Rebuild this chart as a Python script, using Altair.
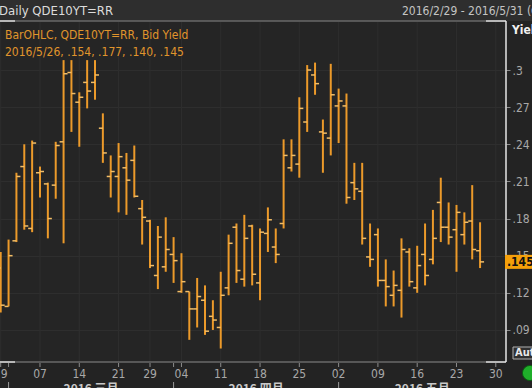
import altair as alt
import pandas as pd

# ---------------- data (trading-day index, Feb 29 = 0) ----------------
day_index = list(range(62))
opens = [.140, .109, .162, .222, .172, .217, .208, .207, .242, .298,
         .274, .290, .290, .253, .214, .214, .221, .227, .188, .178,
         .134, .141, .151, .121, .121, .107, .114, .101, .092, .124,
         .173, .131, .174, .128, .168, .157, .176, .221, .224, .258,
         .296, .250, .245, .271, .271, .209, .202, .149, .167, .130,
         .118, .122, .153, .124, .151, .147, .193, .173, .171, .167,
         .178, .154]
highs = [.153, .163, .217, .240, .243, .222, .209, .242, .308, .308,
         .282, .308, .308, .265, .231, .241, .233, .239, .195, .179,
         .174, .181, .165, .152, .121, .132, .126, .114, .137, .167,
         .176, .183, .175, .172, .189, .172, .244, .244, .278, .304,
         .306, .260, .305, .285, .281, .225, .225, .176, .172, .147,
         .138, .164, .156, .158, .176, .187, .213, .193, .191, .185,
         .207, .177]
lows = [.104, .109, .161, .171, .169, .197, .164, .196, .160, .250,
        .238, .269, .276, .225, .197, .185, .183, .197, .159, .140,
        .123, .137, .128, .120, .082, .092, .086, .090, .075, .118,
        .128, .125, .126, .114, .153, .144, .172, .218, .213, .250,
        .280, .217, .231, .241, .192, .195, .159, .141, .125, .109,
        .109, .100, .125, .120, .126, .143, .161, .159, .137, .159,
        .147, .140]
closes = [.110, .150, .214, .174, .241, .218, .180, .239, .297, .281,
          .278, .283, .296, .233, .218, .230, .211, .198, .181, .142,
          .165, .155, .146, .129, .107, .117, .089, .098, .118, .160,
          .138, .164, .135, .169, .179, .151, .231, .231, .269, .300,
          .289, .249, .280, .275, .197, .204, .164, .147, .130, .125,
          .126, .155, .129, .142, .134, .164, .173, .165, .185, .177,
          .155, .145]

tick_index = [0, 5, 10, 15, 19, 23, 28, 33, 38, 43, 48, 53, 58, 63]
tick_labels = ["29", "07", "14", "21", "29", "04", "11", "18",
               "25", "02", "09", "16", "23", "30"]
month_start_index = [1, 22, 43]
month_labels = ["2016 三月", "2016 四月", "2016 五月"]
y_ticks = [0.09, 0.12, 0.15, 0.18, 0.21, 0.24, 0.27, 0.30]

title_text = "Daily QDE10YT=RR"
range_text = "2016/2/29 - 2016/5/31 (GMT)"
legend_line1 = "BarOHLC, QDE10YT=RR, Bid Yield"
legend_line2 = "2016/5/26, .154, .177, .140, .145"
last_close = closes[-1]

# ---------------- layout / style ----------------
W, H = 506, 340
X_DOMAIN = [-0.09, 64.3]
Y_DOMAIN = [0.0641, 0.3388]
BAR = "#ec9a2a"
TICKC = "#f3bd66"
ORANGE_TXT = "#e0952c"
GRID = "#2e2e2e"
AXTXT = "#a8a8a8"
FONT = "Liberation Sans Narrow, DejaVu Sans Condensed, Roboto, sans-serif"
CJK = "Noto Sans CJK SC"

df = pd.DataFrame({"i": day_index, "open": opens, "high": highs,
                   "low": lows, "close": closes})

xs = alt.Scale(domain=X_DOMAIN, nice=False, zero=False)
ys = alt.Scale(domain=Y_DOMAIN, nice=False, zero=False)


def X(field):
    return alt.X(field, scale=xs, title=None, axis=None)


y_axis = alt.Axis(values=y_ticks, orient="right", labelOverlap=False,
                  labelExpr="substring(format(datum.value, '.2~f'), 1)")

ticks_df = pd.DataFrame({"i": tick_index, "lab": tick_labels})
all_tick_df = pd.DataFrame({"i": sorted(set(tick_index + month_start_index))})

vgrid = alt.Chart(ticks_df).mark_rule(color=GRID, strokeWidth=1).encode(
    x=X("i:Q"), y=alt.value(0), y2=alt.value(340))

hl = alt.Chart(df).mark_rule(color=BAR, strokeWidth=2).encode(
    x=X("i:Q"),
    y=alt.Y("low:Q", scale=ys, title=None, axis=y_axis),
    y2="high:Q",
)
op = alt.Chart(df).mark_rule(color=TICKC, strokeWidth=1.5, xOffset=-4, x2Offset=0).encode(
    x=X("i:Q"), x2="i:Q",
    y=alt.Y("open:Q", scale=ys, title=None),
)
cl = alt.Chart(df).mark_rule(color=TICKC, strokeWidth=1.5, xOffset=0, x2Offset=4).encode(
    x=X("i:Q"), x2="i:Q",
    y=alt.Y("close:Q", scale=ys, title=None),
)

# x axis drawn by hand (ticks + labels)
xticks = alt.Chart(all_tick_df).mark_rule(color="#8c8c8c", strokeWidth=1).encode(
    x=X("i:Q"), y=alt.value(341), y2=alt.value(345))
xlabels = alt.Chart(ticks_df).mark_text(baseline="middle", color=AXTXT, fontSize=12,
                                        font=FONT).encode(
    x=X("i:Q"), y=alt.value(352), text="lab:N")

one = pd.DataFrame({"k": [0]})


def txt(s, x, y, color, size, weight="normal", align="left", font=FONT):
    d = pd.DataFrame({"t": [s]})
    return alt.Chart(d).mark_text(align=align, baseline="middle", color=color,
                                  fontSize=size, fontWeight=weight, font=font).encode(
        text="t:N", x=alt.value(x), y=alt.value(y))


def hrule(x1, x2, y, color, w):
    return alt.Chart(one).mark_rule(color=color, strokeWidth=w).encode(
        x=alt.value(x1), x2=alt.value(x2), y=alt.value(y))


# title bar
title_bg = alt.Chart(one).mark_rect(color="#2e2e2e").encode(
    x=alt.value(0), x2=alt.value(532), y=alt.value(-22), y2=alt.value(-1))
t_title = txt(title_text, -1, -11, "#dcdcdc", 13)
t_range = txt(range_text, 402, -11, "#c4c4c4", 12)

# frame lines
top_line = hrule(0, 506, -1, "#6a6a6a", 1.5)
top_a = hrule(0, 15, -1, "#d8d8d8", 1.5)
top_b = hrule(486, 506, -1, "#d8d8d8", 1.5)
bot_line = hrule(0, 506, 340, "#6a6a6a", 1.5)
bot_a = hrule(0, 15, 340, "#d8d8d8", 1.5)
bot_b = hrule(486, 506, 340, "#d8d8d8", 1.5)
right_line = alt.Chart(one).mark_rule(color="#e6e6e6", strokeWidth=1.5).encode(
    x=alt.value(506), y=alt.value(-1), y2=alt.value(340))

# legend text
l1 = txt(legend_line1, 5, 13, ORANGE_TXT, 12)
l2 = txt(legend_line2, 5, 30, ORANGE_TXT, 12)

# right-side items
yiel = txt("Yield", 512, 8, "#f0f0f0", 12, weight="bold")
last_box = alt.Chart(one).mark_rect(color="#f5a00a", yOffset=-7, y2Offset=7).encode(
    x=alt.value(505), x2=alt.value(533),
    y=alt.datum(last_close, scale=ys), y2=alt.datum(last_close))
last_txt = alt.Chart(pd.DataFrame({"t": [".145"]})).mark_text(
    align="left", baseline="middle", color="#111111", fontSize=12,
    fontWeight="bold", font=FONT).encode(
    text="t:N", x=alt.value(507), y=alt.datum(last_close, scale=ys))
auto_box = alt.Chart(one).mark_rect(fill="#303030", stroke="#b0b0b0", strokeWidth=1).encode(
    x=alt.value(513), x2=alt.value(540), y=alt.value(325), y2=alt.value(337))
auto_txt = txt("Auto", 515, 331, "#e8e8e8", 11, weight="bold")
green = alt.Chart(one).mark_circle(color="#1fae2a", opacity=1, size=230,
                                   stroke="#0c5a12", strokeWidth=1).encode(
    x=alt.value(530), y=alt.value(351))

# month row
starts = month_start_index
ends = month_start_index[1:] + [X_DOMAIN[1]]
mdf = pd.DataFrame({"c": [(a + b) / 2 for a, b in zip(starts, ends)],
                    "m": month_labels})
month_txt = alt.Chart(mdf).mark_text(baseline="top", color="#c8c8c8", fontSize=12,
                                     font=CJK, fontWeight="bold").encode(
    x=X("c:Q"), y=alt.value(362), text="m:N")
sep = alt.Chart(pd.DataFrame({"i": month_start_index})).mark_rule(
    color="#9a9a9a", strokeWidth=1).encode(
    x=X("i:Q"), y=alt.value(360), y2=alt.value(368))

chart = alt.layer(
    title_bg, vgrid, hl, op, cl, xticks, xlabels,
    top_line, top_a, top_b, bot_line, bot_a, bot_b, right_line,
    t_title, t_range, l1, l2, yiel, last_box, last_txt,
    auto_box, auto_txt, green, month_txt, sep,
).properties(
    width=W, height=H,
    autosize=alt.AutoSizeParams(type="none"),
    padding={"left": 0, "top": 22, "right": 26, "bottom": 26},
    background="#232323",
).configure_view(
    strokeWidth=0, fill="#252525"
).configure_axis(
    grid=True, gridColor=GRID, gridWidth=1, domain=False,
    tickColor="#8c8c8c", tickSize=4, labelColor=AXTXT,
    labelFont=FONT, labelFontSize=12, labelFlush=False,
).configure_axisY(labelPadding=2)

chart.save("out.html", embed_options={"renderer": "svg", "actions": False})
